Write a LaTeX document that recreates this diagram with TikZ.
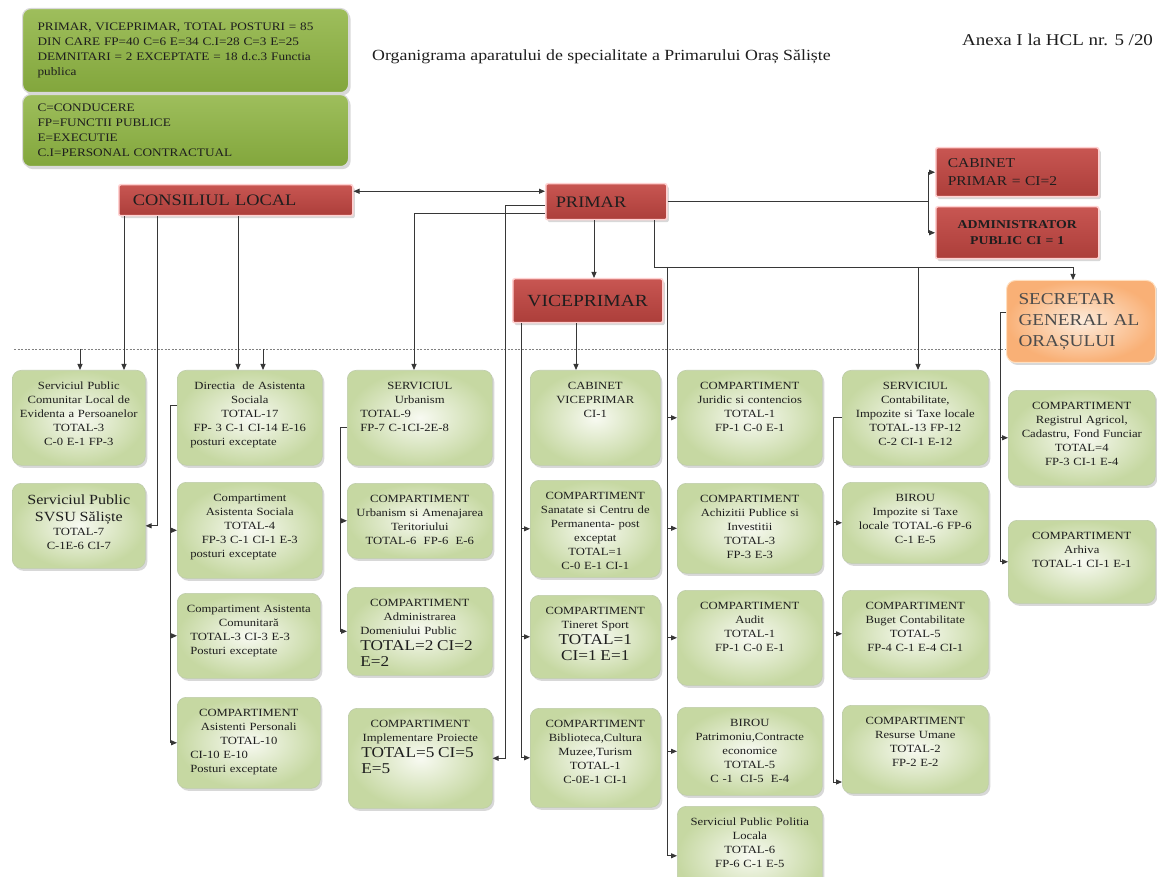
\documentclass[tikz,border=0pt]{standalone}
\usepackage{fontspec}
\setmainfont[FakeStretch=1.15]{Liberation Serif}
\usetikzlibrary{shadows,arrows.meta}
\definecolor{txt}{RGB}{30,30,30}
\definecolor{lnc}{RGB}{55,55,55}
\definecolor{grnout}{RGB}{198,216,162}
\definecolor{grnin}{RGB}{248,250,242}
\definecolor{grnbd}{RGB}{190,204,170}
\definecolor{olv1}{RGB}{158,190,92}
\definecolor{olv2}{RGB}{130,166,60}
\definecolor{red1}{RGB}{200,86,82}
\definecolor{red2}{RGB}{172,62,58}
\definecolor{orout}{RGB}{249,176,118}
\definecolor{orin}{RGB}{253,236,220}
\tikzset{
  ln/.style={draw=lnc, line width=0.9pt},
  arr/.style={ln, -{Triangle[length=6pt,width=5pt]}},
  arrb/.style={ln, {Triangle[length=6pt,width=5pt]}-{Triangle[length=6pt,width=5pt]}},
  shd/.style={drop shadow={opacity=0.3, shadow xshift=2pt, shadow yshift=-2.5pt}},
  gbox/.style={shd, rounded corners=9pt, draw=grnbd, line width=0.6pt, inner color=grnin, outer color=grnout},
  gtxt/.style={inner sep=0pt, text=txt, font=\fontsize{11}{14}\selectfont},
  obox/.style={shd, anchor=north west, rounded corners=8pt, draw=white!85!black, line width=1.2pt,
    top color=olv1, bottom color=olv2, text=txt, align=left, inner xsep=15pt, inner ysep=2pt,
    font=\fontsize{11.5}{15}\selectfont},
  rbox/.style={shd, anchor=north west, rounded corners=2pt, draw=white!82!red, line width=1.5pt,
    top color=red1, bottom color=red2, text=txt, inner ysep=2pt},
  ttl/.style={inner sep=0pt, anchor=west, text=txt}
}
\newcommand\lft{\par\raggedright\leftskip=11pt\relax}
\newcommand\gb[6]{%
  \pgfmathsetmacro\gbw{#4-#2}\pgfmathsetmacro\gbh{#5-#3}\pgfmathsetmacro\gbt{#4-#2-4}%
  \node[gbox, anchor=north west, minimum width=\gbw pt, minimum height=\gbh pt] (#1) at (#2,#3) {};
  \node[gtxt, anchor=north, text width=\gbt pt] (#1t) at ([yshift=-12pt]#1.north) {\centering #6\par};
}
\begin{document}
\begin{tikzpicture}[x=1pt,y=-1pt]
\fill[white] (0,0) rectangle (1157,877);
\useasboundingbox (0,0) rectangle (1157,877);

% headings
\node[ttl, font=\fontsize{16.5}{19}\selectfont] (anexa) at (962,40) {Anexa I la HCL nr. 5 /20};
\node[ttl, font=\fontsize{15.5}{18}\selectfont] (title) at (372,57) {Organigrama aparatului de specialitate a Primarului Oraș Săliște};

% info boxes
\node[obox, minimum height=84pt, text width=296pt] (info1) at (22,8)
  {PRIMAR, VICEPRIMAR, TOTAL POSTURI = 85\\DIN CARE FP=40 C=6 E=34 C.I=28 C=3 E=25\\DEMNITARI = 2 EXCEPTATE = 18 d.c.3 Functia\\publica};
\node[obox, minimum height=72pt, text width=296pt] (info2) at (22,94)
  {C=CONDUCERE\\FP=FUNCTII PUBLICE\\E=EXECUTIE\\C.I=PERSONAL CONTRACTUAL};

% red boxes
\node[rbox, minimum height=31pt, text width=206pt, inner xsep=14pt, align=left, font=\fontsize{16}{19}\selectfont] (cl) at (118,184) {CONSILIUL LOCAL};
\node[rbox, minimum height=36pt, text width=101pt, inner xsep=10pt, align=left, font=\fontsize{16}{19}\selectfont] (pr) at (545,183) {PRIMAR};
\node[rbox, minimum height=49pt, text width=139pt, inner xsep=12pt, align=left, font=\fontsize{13.5}{18}\selectfont] (cab) at (935,147) {CABINET\\PRIMAR = CI=2};
\node[rbox, minimum height=52pt, text width=143pt, inner xsep=10pt, align=center, font=\bfseries\fontsize{12}{16}\selectfont] (adm) at (935,206) {ADMINISTRATOR\\PUBLIC CI = 1};
\node[rbox, minimum height=44pt, text width=130pt, inner xsep=10pt, align=center, font=\fontsize{17}{20}\selectfont] (vp) at (512,278) {VICEPRIMAR};
\node[shd, anchor=north west, rounded corners=9pt, draw=white!75!orange, line width=1pt, inner color=orin, outer color=orout,
  minimum height=82pt, text width=125pt, inner xsep=12pt, align=left, text=black!70, font=\fontsize{16.7}{21}\selectfont] (sec) at (1006,280)
  {SECRETAR\\GENERAL AL\\ORAȘULUI};

% dashed line
\coordinate (dl) at (14,349);
\draw[draw=gray, line width=0.8pt, dash pattern=on 2pt off 1.5pt] (dl) -- (dl -| sec.west);

% green boxes
\gb{spcl}{12}{370}{145}{465}{Serviciul Public\\Comunitar Local de\\Evidenta a Persoanelor\\TOTAL-3\\C-0 E-1 FP-3}
\gb{svsu}{12}{483}{145}{568}{{\fontsize{14}{17}\selectfont Serviciul Public\\SVSU Săliște\par}TOTAL-7\\C-1E-6 CI-7}
\gb{das}{177}{370}{322}{465}{Directia\ \ de Asistenta\\Sociala\\TOTAL-17\\FP- 3 C-1 CI-14 E-16\lft posturi exceptate}
\gb{cas}{177}{482}{322}{578}{Compartiment\\Asistenta Sociala\\TOTAL-4\\FP-3 C-1 CI-1 E-3\lft posturi exceptate}
\gb{cac}{177}{593}{320}{678}{Compartiment Asistenta\\Comunitară\lft TOTAL-3 CI-3 E-3\\Posturi exceptate}
\gb{cap}{177}{697}{320}{788}{COMPARTIMENT\\Asistenti Personali\\TOTAL-10\lft CI-10 E-10\\Posturi exceptate}
\gb{su}{347}{370}{492}{465}{SERVICIUL\\Urbanism\lft TOTAL-9\\FP-7 C-1CI-2E-8}
\gb{cua}{347}{483}{492}{558}{COMPARTIMENT\\Urbanism si Amenajarea\\Teritoriului\\TOTAL-6\ \ FP-6\ \ E-6}
\gb{cadp}{347}{587}{492}{675}{COMPARTIMENT\\Administrarea\lft Domeniului Public\par{\fontsize{15}{16}\selectfont TOTAL=2 CI=2\\E=2\par}}
\gb{cip}{348}{708}{492}{808}{COMPARTIMENT\\Implementare Proiecte\lft{\fontsize{15}{16}\selectfont TOTAL=5 CI=5\\E=5\par}}
\gb{cvp}{530}{370}{660}{465}{CABINET\\VICEPRIMAR\\CI-1}
\gb{csan}{530}{480}{660}{577}{COMPARTIMENT\\Sanatate si Centru de\\Permanenta- post\\exceptat\\TOTAL=1\\C-0 E-1 CI-1}
\gb{cts}{530}{595}{660}{678}{COMPARTIMENT\\Tineret Sport\par{\fontsize{15}{16}\selectfont TOTAL=1\\CI=1 E=1\par}}
\gb{cbib}{530}{708}{660}{807}{COMPARTIMENT\\Biblioteca,Cultura\\Muzee,Turism\\TOTAL-1\\C-0E-1 CI-1}
\gb{cjur}{677}{370}{822}{465}{COMPARTIMENT\\Juridic si contencios\\TOTAL-1\\FP-1 C-0 E-1}
\gb{cach}{677}{483}{822}{573}{COMPARTIMENT\\Achizitii Publice si\\Investitii\\TOTAL-3\\FP-3 E-3}
\gb{caud}{677}{590}{822}{685}{COMPARTIMENT\\Audit\\TOTAL-1\\FP-1 C-0 E-1}
\gb{bpat}{677}{707}{822}{795}{BIROU\\Patrimoniu,Contracte\\economice\\TOTAL-5\\C -1\ \ CI-5\ \ E-4}
\gb{spl}{677}{806}{822}{905}{Serviciul Public Politia\\Locala\\TOTAL-6\\FP-6 C-1 E-5}
\gb{scont}{842}{370}{988}{465}{SERVICIUL\\Contabilitate,\\Impozite si Taxe locale\\TOTAL-13 FP-12\\C-2 CI-1 E-12}
\gb{bimp}{842}{482}{988}{563}{BIROU\\Impozite si Taxe\\locale TOTAL-6 FP-6\\C-1 E-5}
\gb{cbug}{842}{590}{988}{677}{COMPARTIMENT\\Buget Contabilitate\\TOTAL-5\\FP-4 C-1 E-4 CI-1}
\gb{cru}{842}{705}{988}{793}{COMPARTIMENT\\Resurse Umane\\TOTAL-2\\FP-2 E-2}
\gb{creg}{1008}{390}{1155}{485}{COMPARTIMENT\\Registrul Agricol,\\Cadastru, Fond Funciar\\TOTAL=4\\FP-3 CI-1 E-4}
\gb{carh}{1008}{520}{1155}{603}{COMPARTIMENT\\Arhiva\\TOTAL-1 CI-1 E-1}

% connectors: consiliul local
\draw[arrb] ([yshift=9pt]cl.east) -- ([yshift=9pt]cl.east -| pr.west);
\draw[arr] (124,0 |- cl.south) -- (124,0 |- spcl.north);
\draw[arr] (157,0 |- cl.south) |- (svsu.east);
\draw[arr] (238,0 |- cl.south) -- (238,0 |- das.north);
\draw[arr] (80,0 |- dl) -- (80,0 |- spcl.north);
\draw[arr] (263,0 |- dl) -- (263,0 |- das.north);
% directia
\draw[ln] ([yshift=12pt]das.west) -| (170,0 |- cap.west);
\foreach \n in {cas,cac,cap} \draw[arr] (170,0 |- \n.west) -- (\n.west);
% primar
\draw[arr] ([yshift=-4pt]pr.west) -| (505,0 |- cip.east) -- (cip.east);
\draw[arr] ([yshift=-12pt]pr.west) -| (414,0 |- su.north);
\draw[arr] (594,0 |- pr.south) -- (594,0 |- vp.north);
\coordinate (hub) at (654,267);
\draw[arr] (654,0 |- pr.south) -- (hub) -| (1073,0 |- sec.north);
\draw[arr] (918,0 |- hub) -- (918,0 |- scont.north);
\draw[ln] (667,0 |- hub) -- (667,0 |- spl.west);
\foreach \n in {cjur,cach,caud,bpat,spl} \draw[arr] (667,0 |- \n.west) -- (\n.west);
\draw[ln] (pr.east) -- (928,0 |- pr.east);
\draw[ln] (928,0 |- cab.west) -- (928,0 |- adm.west);
\draw[arr] (928,0 |- cab.west) -- (cab.west);
\draw[arr] (928,0 |- adm.west) -- (adm.west);
% viceprimar
\draw[arr] (576,0 |- vp.south) -- (576,0 |- cvp.north);
\draw[ln] (521,0 |- vp.south) -- (521,0 |- cbib.west);
\foreach \n in {csan,cts,cbib} \draw[arr] (521,0 |- \n.west) -- (\n.west);
% urbanism
\draw[ln] ([yshift=-10pt]su.west) -| (340,0 |- cadp.west);
\foreach \n in {cua,cadp} \draw[arr] (340,0 |- \n.west) -- (\n.west);
% contabilitate
\coordinate (cruin) at (833,782);
\draw[ln] (scont.west) -| (cruin);
\foreach \n in {bimp,cbug} \draw[arr] (833,0 |- \n.west) -- (\n.west);
\draw[arr] (cruin) -- (cruin -| cru.west);
% secretar
\draw[ln] ([yshift=9pt]sec.west) -| (1000,0 |- carh.west);
\foreach \n in {creg,carh} \draw[arr] (1000,0 |- \n.west) -- (\n.west);
\end{tikzpicture}
\end{document}
